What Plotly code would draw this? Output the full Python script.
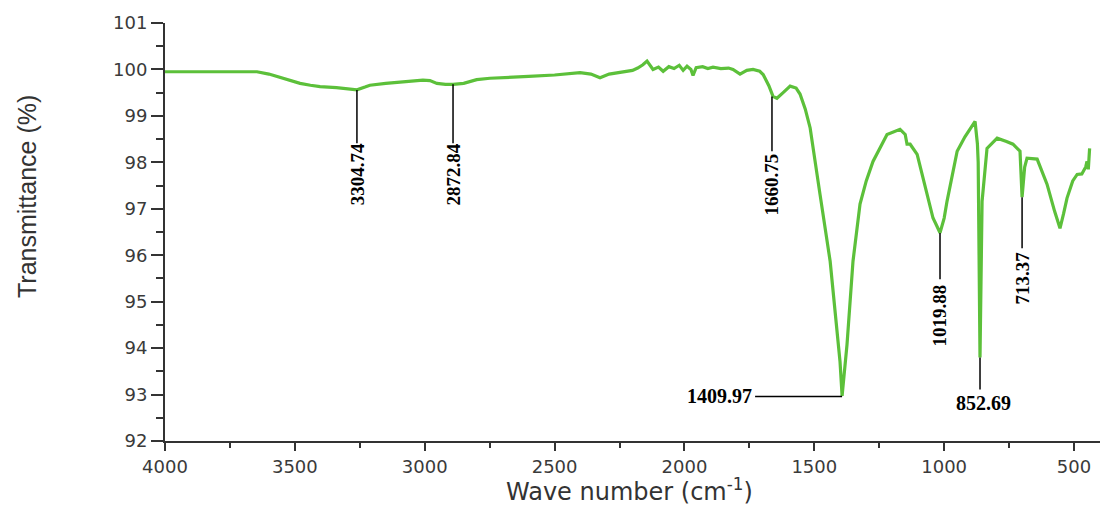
import plotly.graph_objects as go

# Traced spectrum (wave number, transmittance %)
wavenumber = [4000, 3900, 3800, 3700, 3646, 3600, 3550, 3480, 3440, 3403, 3340, 3300, 3261,
              3230, 3211, 3150, 3080, 3007, 2980, 2953, 2920, 2891, 2850, 2800, 2749, 2700,
              2600, 2500, 2402, 2360, 2325, 2290, 2260, 2236, 2200, 2180, 2160, 2144, 2135,
              2121, 2100, 2082, 2060, 2040, 2020, 2005, 1990, 1975, 1967, 1955, 1930, 1910,
              1890, 1860, 1830, 1813, 1786, 1760, 1736, 1710, 1697, 1675, 1659, 1644, 1620,
              1593, 1570, 1555, 1535, 1516, 1478, 1439, 1401, 1393, 1374, 1351, 1324, 1300,
              1274, 1220, 1170, 1150, 1143, 1131, 1104, 1066, 1043, 1030, 1016, 1000, 989,
              950, 920, 881, 872, 869, 864, 862, 858, 854, 835, 796, 760, 735, 708, 700, 690,
              681, 642, 604, 575, 554, 540, 527, 505, 488, 470, 465, 455, 450, 445, 440]
transmittance = [99.95, 99.95, 99.96, 99.96, 99.95, 99.90, 99.82, 99.70, 99.66, 99.63, 99.61,
                 99.59, 99.56, 99.62, 99.66, 99.70, 99.73, 99.77, 99.76, 99.70, 99.68, 99.68,
                 99.70, 99.78, 99.81, 99.82, 99.85, 99.88, 99.93, 99.90, 99.82, 99.90, 99.93,
                 99.96, 99.98, 100.03, 100.10, 100.18, 100.12, 100.00, 100.05, 99.96, 100.06,
                 100.02, 100.09, 99.98, 100.07, 100.00, 99.87, 100.04, 100.06, 100.02, 100.05,
                 100.02, 100.03, 100.00, 99.90, 99.98, 100.00, 99.96, 99.89, 99.65, 99.42,
                 99.38, 99.50, 99.64, 99.60, 99.47, 99.15, 98.74, 97.31, 95.87, 93.71, 92.97,
                 94.08, 95.87, 97.10, 97.60, 98.02, 98.60, 98.71, 98.60, 98.39, 98.39, 98.17,
                 97.31, 96.80, 96.65, 96.48, 96.80, 97.16, 98.24, 98.55, 98.88, 98.40, 98.00,
                 95.50, 93.80, 95.50, 97.16, 98.30, 98.52, 98.45, 98.39, 98.24, 97.25, 97.90,
                 98.09, 98.07, 97.53, 96.95, 96.58, 96.90, 97.23, 97.60, 97.74, 97.75, 97.81,
                 97.90, 98.02, 97.85, 98.30]

# Peak annotations: label, line x, line top y, line bottom y, label centre y
vert_labels = ["3304.74", "2872.84", "1660.75", "1019.88", "713.37"]
vert_x = [3261, 2891, 1663, 1016, 700]
vert_top = [99.56, 99.68, 99.42, 96.48, 97.25]
vert_bottom = [98.41, 98.41, 98.24, 95.48, 96.15]
vert_text_y = [97.74, 97.74, 97.52, 94.70, 95.50]

spike_label = "852.69"
spike_x = 862
spike_top = 93.80
spike_bottom = 93.11
spike_text = (850, 92.81)

min_label = "1409.97"
min_x = 1393
min_y = 92.96
min_line_start = 1728

x_ticks = [4000, 3500, 3000, 2500, 2000, 1500, 1000, 500]
y_ticks = [92, 93, 94, 95, 96, 97, 98, 99, 100, 101]

fig = go.Figure()
fig.add_trace(go.Scatter(x=wavenumber, y=transmittance, mode="lines",
                         line=dict(color="#5cc03a", width=3.2), showlegend=False,
                         hoverinfo="skip"))

shapes = []
annots = []
lab_font = dict(family="Liberation Serif, Times New Roman, serif", size=19, color="black")
for lab, x, t, b, ty in zip(vert_labels, vert_x, vert_top, vert_bottom, vert_text_y):
    shapes.append(dict(type="line", xref="x", yref="y", x0=x, x1=x, y0=t, y1=b,
                       line=dict(color="black", width=1.5)))
    annots.append(dict(x=x, y=ty, xref="x", yref="y", text="<b>%s</b>" % lab,
                       showarrow=False, textangle=-90, font=lab_font,
                       xanchor="center", yanchor="middle"))

shapes.append(dict(type="line", xref="x", yref="y", x0=spike_x, x1=spike_x,
                   y0=spike_top, y1=spike_bottom, line=dict(color="black", width=1.5)))
annots.append(dict(x=spike_text[0], y=spike_text[1], xref="x", yref="y",
                   text="<b>%s</b>" % spike_label, showarrow=False,
                   font=dict(lab_font, size=20), xanchor="center", yanchor="middle"))

shapes.append(dict(type="line", xref="x", yref="y", x0=min_line_start, x1=min_x,
                   y0=min_y, y1=min_y, line=dict(color="black", width=1.5)))
annots.append(dict(x=min_line_start, y=min_y, xref="x", yref="y",
                   text="<b>%s</b>" % min_label, showarrow=False,
                   font=dict(lab_font, size=20), xanchor="right", yanchor="middle",
                   xshift=-1))

# Axis titles
annots.append(dict(x=-0.147, y=0.585, xref="paper", yref="paper",
                   text="Transmittance (%)", showarrow=False, textangle=-90,
                   font=dict(family="Liberation Sans Narrow, Liberation Sans, Arial", size=25,
                             color="#333333"),
                   xanchor="center", yanchor="middle"))
annots.append(dict(x=0.497, y=-0.118, xref="paper", yref="paper",
                   text="Wave number (cm<sup>-1</sup>)", showarrow=False,
                   font=dict(family="DejaVu Sans", size=24, color="#333333"),
                   xanchor="center", yanchor="middle"))

tick_font = dict(family="DejaVu Sans", size=18, color="#3a3a3a")
fig.update_layout(
    width=1109, height=510,
    margin=dict(l=165, r=9, t=23, b=69),
    plot_bgcolor="white", paper_bgcolor="white",
    shapes=shapes, annotations=annots,
    xaxis=dict(range=[4000, 400], tickvals=x_ticks, ticks="outside", ticklen=8,
               tickwidth=2, tickcolor="#333333", showline=True, linecolor="#333333",
               linewidth=2, showgrid=False, zeroline=False, tickfont=tick_font,
               minor=dict(dtick=250, ticks="outside", ticklen=5, tickwidth=2,
                          tickcolor="#333333", showgrid=False)),
    yaxis=dict(range=[92, 101], tickvals=y_ticks, ticks="outside", ticklen=12,
               tickwidth=2, tickcolor="#333333", showline=True, linecolor="#333333",
               linewidth=2, showgrid=False, zeroline=False, tickfont=tick_font,
               minor=dict(dtick=0.5, ticks="outside", ticklen=7, tickwidth=2,
                          tickcolor="#333333", showgrid=False)),
)

fig.write_html("out.html")
